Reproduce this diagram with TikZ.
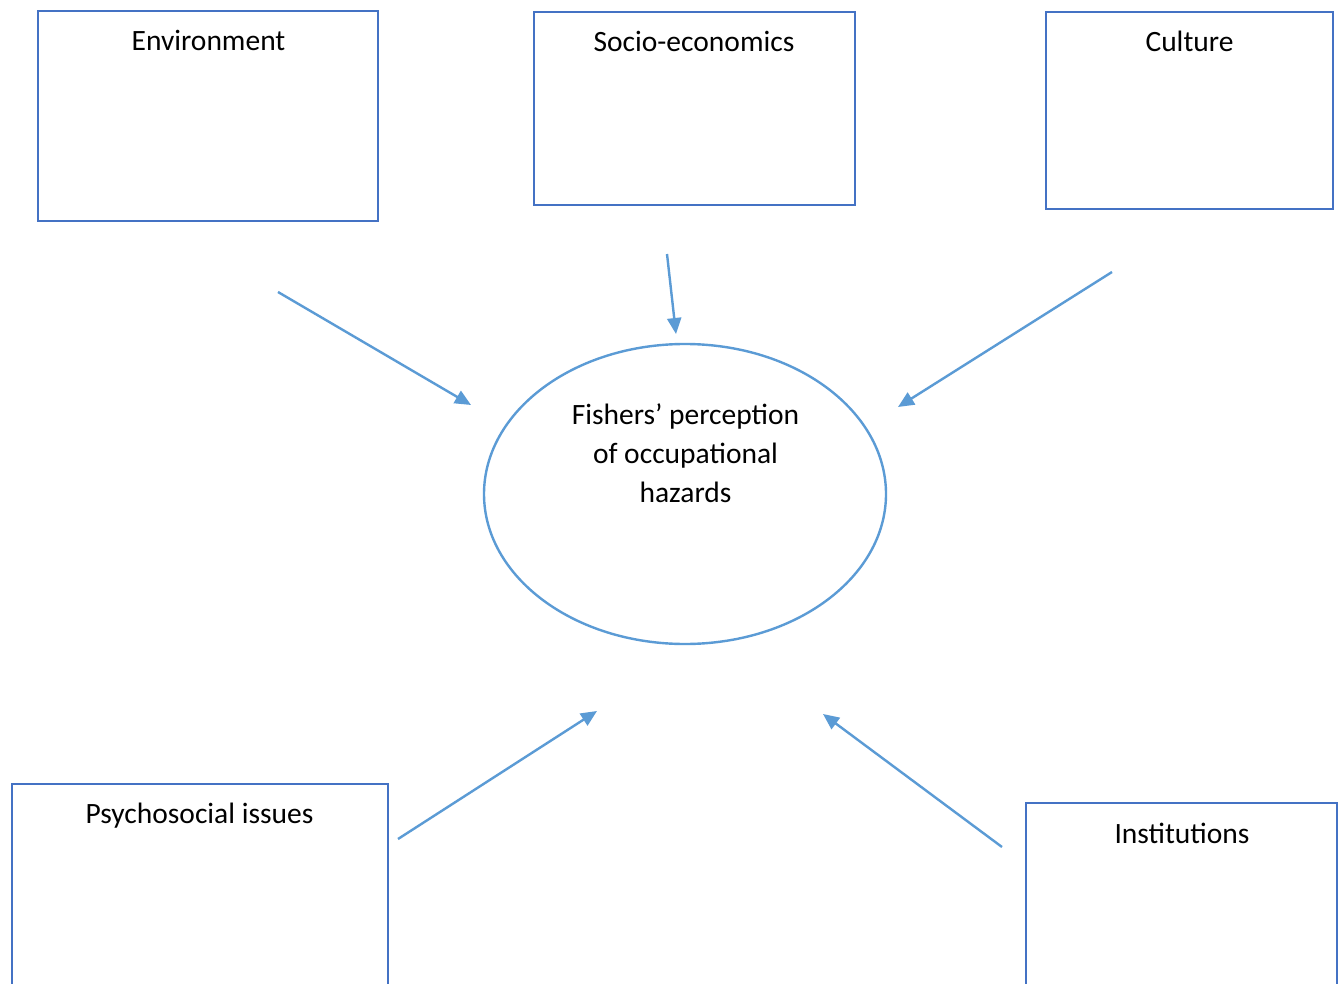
\documentclass[tikz,border=0pt]{standalone}
\usepackage{fontspec}
\setmainfont{Carlito}
\usetikzlibrary{arrows.meta,shapes.geometric}
\definecolor{boxblue}{HTML}{4472C4}
\definecolor{arrblue}{HTML}{5B9BD5}
\begin{document}
\begin{tikzpicture}[x=1pt,y=-1pt,
  box/.style={draw=boxblue,line width=2.4pt,rectangle,inner sep=0pt},
  lbl/.style={anchor=base,inner sep=0pt,font=\fontsize{29.5}{39}\selectfont},
  oval/.style={draw=arrblue,line width=2.4pt,ellipse,inner sep=0pt,minimum width=402pt,minimum height=300pt},
  conn/.style={draw=arrblue,line width=2.4pt,-{Triangle[length=16pt,width=14pt]}}]
\useasboundingbox (0,0) rectangle (1341,984);
\clip (0,0) rectangle (1341,984);
\fill[white] (0,0) rectangle (1341,984);
% boxes
\node[box,minimum width=340pt,minimum height=210pt] (env) at (208,116) {};
\node[box,minimum width=321pt,minimum height=193pt] (soc) at (694.5,108.5) {};
\node[box,minimum width=287pt,minimum height=197pt] (cul) at (1189.5,110.5) {};
\node[box,minimum width=376pt,minimum height=216pt] (psy) at (200,892) {};
\node[box,minimum width=311pt,minimum height=197pt] (ins) at (1181.5,901.5) {};
% labels
\node[lbl] (envt) at (208.5,51) {Environment};
\node[lbl] (soct) at (694,52) {Socio-economics};
\node[lbl] (cult) at (1189.5,52) {Culture};
\node[lbl] (psyt) at (199.5,823) {Psychosocial issues};
\node[lbl] (inst) at (1182,843) {Institutions};
% ellipse
\node[oval] (fish) at (685,494) {};
\node[lbl] (f1) at (685.5,424) {Fishers’ perception};
\node[lbl] (f2) at (685.5,463) {of occupational};
\node[lbl] (f3) at (685.5,502) {hazards};
% arrow coordinates
\coordinate (a1s) at (278,292); \coordinate (a1e) at (471,405);
\coordinate (a2s) at (667,254); \coordinate (a2e) at (676,334);
\coordinate (a3s) at (1112,272); \coordinate (a3e) at (898,407);
\coordinate (a4s) at (398,839); \coordinate (a4e) at (597,711);
\coordinate (a5s) at (1002,847); \coordinate (a5e) at (823,714);
\draw[conn] (a1s) -- (a1e);
\draw[conn] (a2s) -- (a2e);
\draw[conn] (a3s) -- (a3e);
\draw[conn] (a4s) -- (a4e);
\draw[conn] (a5s) -- (a5e);
\end{tikzpicture}
\end{document}
